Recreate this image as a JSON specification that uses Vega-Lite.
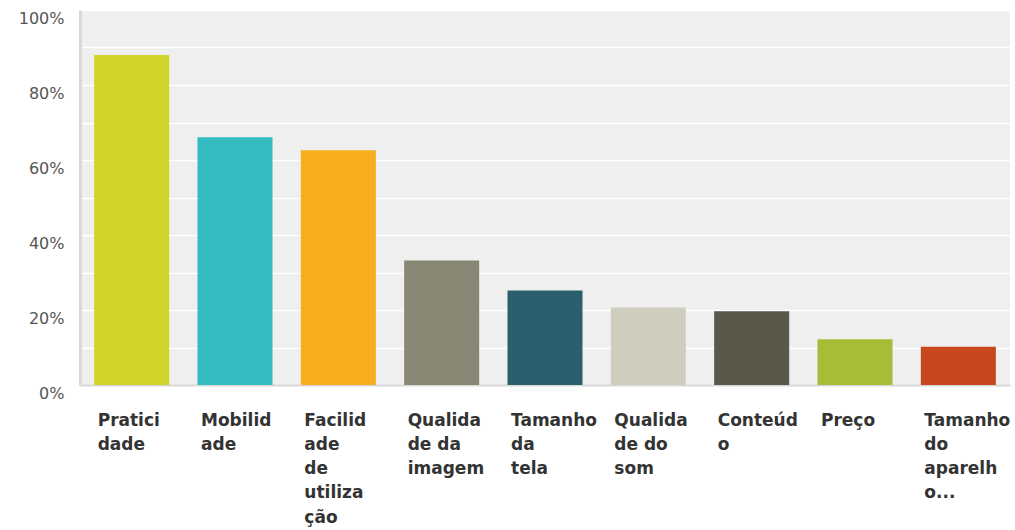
{
  "$schema": "https://vega.github.io/schema/vega-lite/v6.json",
  "width": 930,
  "height": 375,
  "autosize": {"type": "none"},
  "padding": {"left": 80, "top": 10, "right": 5, "bottom": 145},
  "background": "white",
  "config": {"view": {"fill": "#efefef", "stroke": null}},
  "data": {
    "values": [
      {"option": "Praticidade", "pct": 0.88},
      {"option": "Mobilidade", "pct": 0.661},
      {"option": "Facilidade de utilização", "pct": 0.626},
      {"option": "Qualidade da imagem", "pct": 0.332},
      {"option": "Tamanho da tela", "pct": 0.252},
      {"option": "Qualidade do som", "pct": 0.207},
      {"option": "Conteúdo", "pct": 0.197},
      {"option": "Preço", "pct": 0.122},
      {"option": "Tamanho do aparelho", "pct": 0.102}
    ]
  },
  "mark": {"type": "bar"},
  "encoding": {
    "x": {
      "field": "option",
      "type": "nominal",
      "sort": null,
      "scale": {"paddingInner": 0.274, "paddingOuter": 0.137},
      "axis": {
        "title": null,
        "ticks": false,
        "domain": true,
        "domainColor": "#d8d8d8",
        "domainWidth": 2,
        "labelAngle": 0,
        "labelAlign": "left",
        "labelBaseline": "top",
        "labelOffset": -34,
        "labelPadding": 27,
        "labelFont": "DejaVu Sans",
        "labelFontSize": 17,
        "labelFontWeight": "bold",
        "labelColor": "#333333",
        "labelLineHeight": 24.3,
        "labelBound": false,
        "labelOverlap": false,
        "labelLimit": 300,
        "labelExpr": "datum.value == 'Praticidade' ? ['Pratici','dade'] : datum.value == 'Mobilidade' ? ['Mobilid','ade'] : datum.value == 'Facilidade de utilização' ? ['Facilid','ade','de','utiliza','ção'] : datum.value == 'Qualidade da imagem' ? ['Qualida','de da','imagem'] : datum.value == 'Tamanho da tela' ? ['Tamanho','da','tela'] : datum.value == 'Qualidade do som' ? ['Qualida','de do','som'] : datum.value == 'Conteúdo' ? ['Conteúd','o'] : datum.value == 'Preço' ? ['Preço'] : ['Tamanho','do','aparelh','o...']"
      }
    },
    "y": {
      "field": "pct",
      "type": "quantitative",
      "scale": {"domain": [0, 1], "nice": false},
      "axis": {
        "title": null,
        "ticks": false,
        "domain": true,
        "domainColor": "#d8d8d8",
        "domainWidth": 3,
        "grid": true,
        "gridColor": "#ffffff",
        "gridWidth": 1.5,
        "values": [0, 0.1, 0.2, 0.3, 0.4, 0.5, 0.6, 0.7, 0.8, 0.9, 1],
        "labelExpr": "round(datum.value * 100) % 20 == 0 ? format(datum.value, '.0%') : ''",
        "labelFont": "DejaVu Sans",
        "labelFontSize": 16,
        "labelColor": "#555555",
        "labelPadding": 16,
        "labelBaseline": "middle",
        "labelOffset": 8,
        "labelBound": false,
        "labelFlush": false,
        "labelOverlap": false
      }
    },
    "color": {
      "field": "option",
      "type": "nominal",
      "sort": null,
      "legend": null,
      "scale": {
        "domain": ["Praticidade", "Mobilidade", "Facilidade de utilização", "Qualidade da imagem", "Tamanho da tela", "Qualidade do som", "Conteúdo", "Preço", "Tamanho do aparelho"],
        "range": ["#d0d42a", "#33bdc0", "#f6ae1f", "#878774", "#2c5f6e", "#cfcebe", "#5a5949", "#a8bc38", "#c8471c"]
      }
    }
  }
}
